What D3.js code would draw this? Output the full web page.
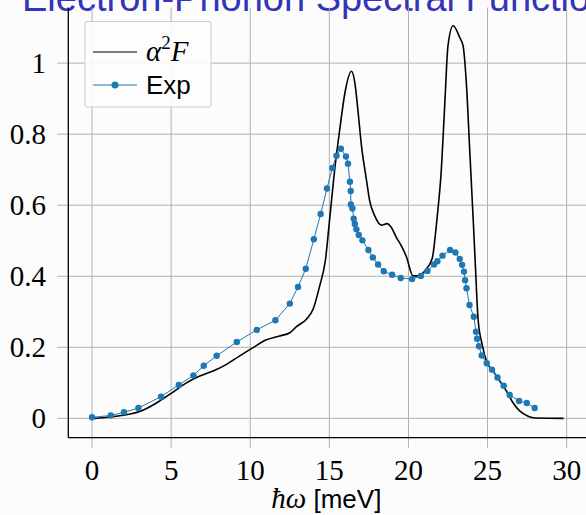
<!DOCTYPE html>
<html>
<head>
<meta charset="utf-8">
<script src="https://cdn.jsdelivr.net/npm/d3@7"></script>
<style>
  html, body { margin: 0; padding: 0; background: #fcfcfc; }
  svg { display: block; }
</style>
</head>
<body>
<svg id="chart"></svg>
<script>
// alpha^2 F (black curve)
const a2fX = [0, 0.5, 1.13, 2.17, 3.22, 4.28, 5.12, 5.97, 6.81, 7.65, 8.5, 9.34, 10.18, 11.02, 11.86, 12.5, 12.92, 13.55, 13.97, 14.39, 14.75, 15.02, 15.34, 15.66, 16.0, 16.4, 16.61, 16.82, 17.03, 17.34, 17.55, 17.87, 18.29, 18.65, 18.92, 19.24, 19.56, 19.87, 20.29, 20.61, 21.03, 21.5, 21.8, 22.08, 22.3, 22.5, 22.82, 23.24, 23.45, 23.67, 23.88, 24.09, 24.22, 24.4, 24.68, 24.93, 25.35, 25.77, 26.19, 26.61, 27.03, 27.56, 28.0, 29.8];
const a2fY = [0, 0.001, 0.004, 0.010, 0.023, 0.049, 0.074, 0.100, 0.119, 0.133, 0.152, 0.176, 0.199, 0.221, 0.232, 0.241, 0.258, 0.279, 0.307, 0.373, 0.445, 0.561, 0.701, 0.814, 0.920, 0.977, 0.945, 0.861, 0.767, 0.673, 0.612, 0.570, 0.544, 0.548, 0.537, 0.509, 0.485, 0.455, 0.401, 0.401, 0.415, 0.450, 0.560, 0.701, 0.889, 1.049, 1.105, 1.072, 1.049, 0.936, 0.748, 0.561, 0.440, 0.279, 0.204, 0.161, 0.133, 0.105, 0.077, 0.044, 0.021, 0.006, 0.001, 0];

// experimental points (blue)
const expX = [0, 1.19, 2.02, 2.93, 4.36, 5.48, 6.41, 7.06, 7.88, 9.15, 10.41, 11.59, 12.5, 13.02, 13.51, 14.02, 14.45, 14.85, 15.19, 15.45, 15.73, 16.05, 16.18, 16.30, 16.35, 16.36, 16.46, 16.54, 16.61, 16.71, 16.86, 17.09, 17.47, 17.75, 18.08, 18.44, 18.97, 19.51, 20.23, 20.78, 21.2, 21.62, 21.83, 22.15, 22.63, 22.97, 23.24, 23.39, 23.51, 23.58, 23.67, 23.86, 24.13, 24.27, 24.34, 24.46, 24.63, 24.95, 25.28, 25.63, 26.02, 26.4, 26.99, 27.48, 27.98];
const expY = [0.003, 0.008, 0.017, 0.029, 0.061, 0.094, 0.121, 0.148, 0.176, 0.215, 0.249, 0.276, 0.323, 0.370, 0.421, 0.504, 0.575, 0.647, 0.705, 0.739, 0.759, 0.737, 0.717, 0.666, 0.640, 0.602, 0.591, 0.562, 0.547, 0.532, 0.516, 0.501, 0.474, 0.453, 0.433, 0.414, 0.404, 0.395, 0.392, 0.401, 0.415, 0.433, 0.442, 0.458, 0.474, 0.467, 0.449, 0.432, 0.413, 0.389, 0.366, 0.319, 0.286, 0.244, 0.224, 0.203, 0.177, 0.155, 0.137, 0.115, 0.092, 0.066, 0.049, 0.043, 0.029];

const xTicks = [0, 5, 10, 15, 20, 25, 30];
const yTicks = [0, 0.2, 0.4, 0.6, 0.8, 1];
const yTickLabels = ["0", "0.2", "0.4", "0.6", "0.8", "1"];

const W = 586, H = 515;
const m = { left: 68.3, top: 7.5, bottom: 437.7, right: 590.4 };
const blue = "#1f77b4";
const grid = "#b0b0b0";

const svg = d3.select("#chart").attr("width", W).attr("height", H);

const x = d3.scaleLinear().domain([-1.5, 31.5]).range([m.left, m.right]);
const y = d3.scaleLinear().domain([-0.0545, 1.1565]).range([m.bottom, m.top]);

// title (cut off at the top in the original)
svg.append("text")
    .attr("x", 22)
    .attr("y", 11)
    .attr("font-family", "Liberation Sans, Arial, sans-serif")
    .attr("font-size", 38)
    .attr("fill", "#3333bb")
    .text("Electron-Phonon Spectral Function");

// grid
const g = svg.append("g");
g.selectAll("line.vx").data(xTicks).join("line")
    .attr("x1", d => x(d)).attr("x2", d => x(d))
    .attr("y1", m.top).attr("y2", m.bottom + 10)
    .attr("stroke", grid).attr("stroke-width", 1);
g.selectAll("line.hy").data(yTicks).join("line")
    .attr("x1", m.left - 11).attr("x2", m.right)
    .attr("y1", d => y(d)).attr("y2", d => y(d))
    .attr("stroke", grid).attr("stroke-width", 1);

// axes spines
svg.append("line").attr("x1", m.left).attr("x2", m.left).attr("y1", m.top).attr("y2", m.bottom)
    .attr("stroke", "#000").attr("stroke-width", 1.3);
svg.append("line").attr("x1", m.left).attr("x2", m.right).attr("y1", m.bottom).attr("y2", m.bottom)
    .attr("stroke", "#000").attr("stroke-width", 1.3);

// tick labels
svg.append("g").selectAll("text").data(xTicks).join("text")
    .attr("x", d => x(d)).attr("y", 479.5)
    .attr("text-anchor", "middle")
    .attr("font-family", "Liberation Serif, Times New Roman, serif")
    .attr("font-size", 29)
    .text(d => d);
svg.append("g").selectAll("text").data(yTicks).join("text")
    .attr("x", 46).attr("y", d => y(d))
    .attr("dy", "0.34em")
    .attr("text-anchor", "end")
    .attr("font-family", "Liberation Serif, Times New Roman, serif")
    .attr("font-size", 29)
    .text((d, i) => yTickLabels[i]);

// x label
const xl = svg.append("text")
    .attr("x", (m.left + m.right) / 2 - 3).attr("y", 508)
    .attr("text-anchor", "middle");
xl.append("tspan")
    .attr("font-family", "Liberation Serif, Times New Roman, serif")
    .attr("font-style", "italic").attr("font-size", 29)
    .text("\u0127\u03c9");
xl.append("tspan")
    .attr("font-family", "Liberation Sans, Arial, sans-serif")
    .attr("font-size", 26)
    .text(" [meV]");

// black curve
const a2f = a2fX.map((v, i) => [v, a2fY[i]]);
svg.append("path")
    .datum(a2f)
    .attr("fill", "none")
    .attr("stroke", "#000")
    .attr("stroke-width", 1.6)
    .attr("d", d3.line().x(d => x(d[0])).y(d => y(d[1])).curve(d3.curveMonotoneX));

// experimental
const exp = expX.map((v, i) => [v, expY[i]]);
svg.append("path")
    .datum(exp)
    .attr("fill", "none")
    .attr("stroke", blue)
    .attr("stroke-width", 1)
    .attr("d", d3.line().x(d => x(d[0])).y(d => y(d[1])));
svg.append("g").selectAll("circle").data(exp).join("circle")
    .attr("cx", d => x(d[0])).attr("cy", d => y(d[1]))
    .attr("r", 3.2)
    .attr("fill", blue);

// legend
const lg = svg.append("g");
lg.append("rect")
    .attr("x", 85).attr("y", 21.5).attr("width", 126).attr("height", 85.5)
    .attr("rx", 2)
    .attr("fill", "#fdfdfd").attr("fill-opacity", 0.9)
    .attr("stroke", "#cccccc").attr("stroke-width", 1);
lg.append("line").attr("x1", 93).attr("x2", 137).attr("y1", 52).attr("y2", 52)
    .attr("stroke", "#000").attr("stroke-width", 1.2);
const lt = lg.append("text").attr("x", 146).attr("y", 61)
    .attr("font-family", "Liberation Serif, Times New Roman, serif")
    .attr("font-size", 29);
lt.append("tspan").attr("font-style", "italic").text("\u03b1");
lt.append("tspan").attr("font-size", 19).attr("dy", -12).text("2");
lt.append("tspan").attr("font-style", "italic").attr("dy", 12).text("F");
lg.append("line").attr("x1", 93).attr("x2", 137).attr("y1", 85).attr("y2", 85)
    .attr("stroke", blue).attr("stroke-width", 1);
lg.append("circle").attr("cx", 115).attr("cy", 85).attr("r", 3.5).attr("fill", blue);
lg.append("text").attr("x", 146).attr("y", 94)
    .attr("font-family", "Liberation Sans, Arial, sans-serif")
    .attr("font-size", 26)
    .text("Exp");
</script>
</body>
</html>
